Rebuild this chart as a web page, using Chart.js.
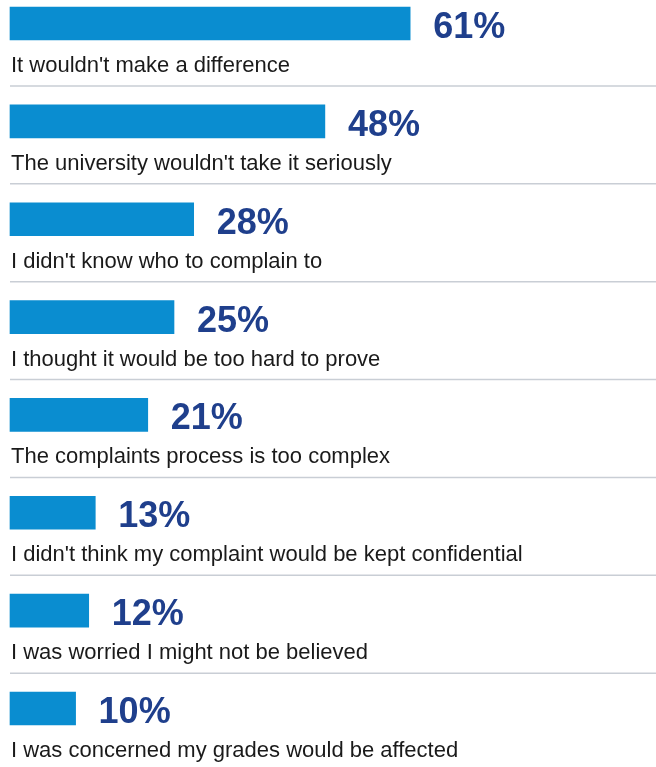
<!DOCTYPE html>
<html>
<head>
<meta charset="utf-8">
<script src="https://cdn.jsdelivr.net/npm/chart.js@4.4.1/dist/chart.umd.min.js"></script>
<style>
  html, body { margin: 0; padding: 0; background: #fff; }
  #wrap { width: 656px; height: 767px; position: relative; }
</style>
</head>
<body>
<div id="wrap"><canvas id="reasonsChart"></canvas></div>
<script>
// Reasons for not complaining (% of respondents)
const reasons = [
  "It wouldn't make a difference",
  "The university wouldn't take it seriously",
  "I didn't know who to complain to",
  "I thought it would be too hard to prove",
  "The complaints process is too complex",
  "I didn't think my complaint would be kept confidential",
  "I was worried I might not be believed",
  "I was concerned my grades would be affected"
];
const percents = [61, 48, 28, 25, 21, 13, 12, 10];

const barColor = "#0a8dd0";
const valueColor = "#1f3f8c";
const labelColor = "#1a1a1a";
const ruleColor = "#c9ced5";

// Draws the value next to each bar, the reason underneath and a rule below
const rowDecor = {
  id: 'rowDecor',
  afterDatasetsDraw(chart) {
    const ctx = chart.ctx;
    const meta = chart.getDatasetMeta(0);
    const left = chart.scales.x.getPixelForValue(0);
    ctx.save();
    meta.data.forEach((bar, i) => {
      const yc = bar.y;
      // value label
      ctx.fillStyle = valueColor;
      ctx.font = "bold 36px 'Liberation Sans', Arial, sans-serif";
      ctx.textAlign = 'left';
      ctx.textBaseline = 'alphabetic';
      ctx.fillText(percents[i] + '%', bar.x + 23, yc + 14.5);
      // reason label
      ctx.fillStyle = labelColor;
      ctx.font = "22px 'Liberation Sans', Arial, sans-serif";
      ctx.fillText(reasons[i], left + 1, yc + 48.5);
      // separator
      ctx.strokeStyle = ruleColor;
      ctx.lineWidth = 1.5;
      ctx.beginPath();
      ctx.moveTo(left, yc + 62.5);
      ctx.lineTo(chart.width, yc + 62.5);
      ctx.stroke();
    });
    ctx.restore();
  }
};

document.addEventListener('DOMContentLoaded', () => {
  const ctx = document.getElementById('reasonsChart').getContext('2d');

  new Chart(ctx, {
    type: 'bar',
    data: {
      labels: reasons,
      datasets: [{
        data: percents,
        backgroundColor: barColor,
        borderWidth: 0,
        barThickness: 33,
        clip: false
      }]
    },
    plugins: [rowDecor],
    options: {
      indexAxis: 'y',
      responsive: true,
      maintainAspectRatio: false,
      animation: false,
      layout: {
        padding: { left: 10, right: 121.2, top: 23.5, bottom: 58.5 }
      },
      scales: {
        x: {
          min: 0,
          max: 80,
          display: false
        },
        y: {
          offset: false,
          display: false
        }
      },
      plugins: {
        legend: { display: false },
        tooltip: { enabled: false }
      }
    }
  });
});
</script>
</body>
</html>
